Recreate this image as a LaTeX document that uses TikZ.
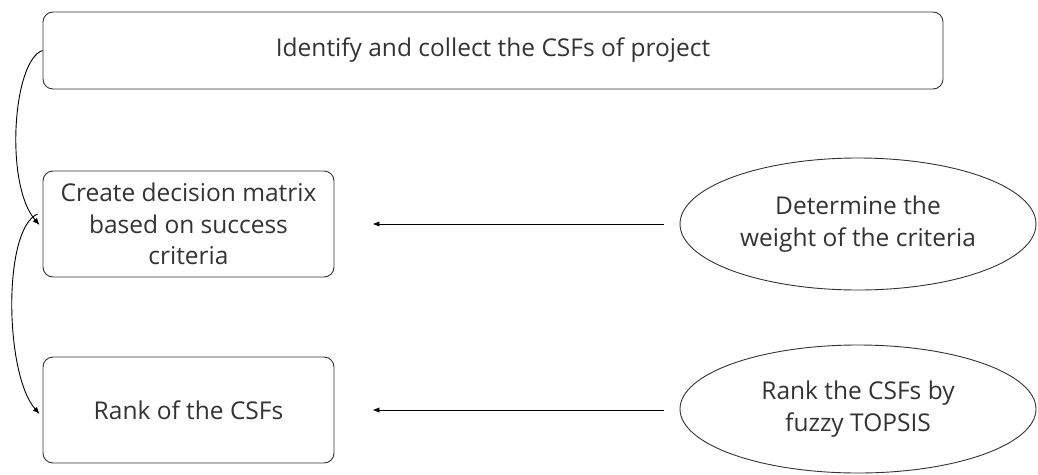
\documentclass[tikz,border=0pt]{standalone}
\usepackage{fontspec}
\setmainfont{Open Sans}
\usetikzlibrary{shapes.geometric,arrows.meta,calc}
\begin{document}
\begin{tikzpicture}[x=1pt,y=-1pt,
  ink/.style={draw=black!80, line width=0.9pt},
  stepbox/.style={ink, rounded corners=10pt, align=center, text=black!80,
    font=\fontsize{24.5}{31.7}\selectfont, inner sep=0pt},
  oval/.style={ink, ellipse, align=center, text=black!80,
    font=\fontsize{24.5}{31.7}\selectfont, inner sep=0pt},
  flow/.style={draw=black, line width=0.9pt, -{Latex[length=7pt,width=5.5pt]}}]
  \useasboundingbox (0,0) rectangle (1038,474);

  \node[stepbox, minimum width=900pt, minimum height=77pt] (collect) at (493,50.5)
    {Identify and collect the CSFs of project};
  \node[stepbox, minimum width=291pt, minimum height=106pt] (matrix) at (188.5,224)
    {Create decision matrix\\based on success\\criteria};
  \node[stepbox, minimum width=291pt, minimum height=106pt] (rank) at (188.5,410)
    {Rank of the CSFs};

  \node[oval, minimum width=356pt, minimum height=132pt] (weight) at (858,224)
    {Determine the\\weight of the criteria};
  \node[oval, minimum width=356pt, minimum height=128pt] (topsis) at (858,409)
    {Rank the CSFs by\\fuzzy TOPSIS};

  % feed-in arrows from the ellipses
  \draw[flow] ([xshift=-16pt]weight.west) -- ([xshift=38pt]matrix.east);
  \draw[flow] ([xshift=-16pt]topsis.west |- rank.east) -- ([xshift=38pt]rank.east);

  % curved arrows down the left side
  \coordinate (c1) at ([xshift=-3pt,yshift=-1pt]matrix.west);
  \draw[flow] (collect.west) .. controls ($(collect.west)+(-30,10)$) and ($(c1)+(-35,-40)$) .. (c1);
  \coordinate (s2) at ([xshift=-5pt,yshift=10pt]matrix.west);
  \coordinate (c2) at ([xshift=-3pt,yshift=-4pt]rank.west);
  \draw[flow] (s2) .. controls ($(s2)+(-35,15)$) and ($(c2)+(-35,-40)$) .. (c2);
\end{tikzpicture}
\end{document}
